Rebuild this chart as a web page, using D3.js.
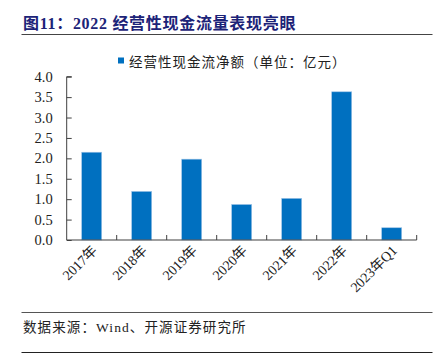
<!DOCTYPE html>
<html><head><meta charset="utf-8">
<script src="https://cdn.jsdelivr.net/npm/d3@7"></script>
<style>
html,body{margin:0;padding:0;background:#fff;}
svg{display:block;}
</style></head>
<body>
<svg id="c" width="443" height="354"></svg>
<script>
const categories = ["2017年","2018年","2019年","2020年","2021年","2022年","2023年Q1"];
const values = [2.15, 1.19, 1.98, 0.87, 1.02, 3.63, 0.30];
const yTicks = [0, 0.5, 1, 1.5, 2, 2.5, 3, 3.5, 4];
const seriesName = "经营性现金流净额（单位：亿元）";
const titleText = "图11：2022 经营性现金流量表现亮眼";
const sourceText = "数据来源：Wind、开源证券研究所";

(function () {
const svg = d3.select("#c");
const cjk = "'Liberation Serif','Noto Sans CJK SC',serif";
const pL = 66.7, pR = 416.7, pT = 76.7, pB = 240;

// title
svg.append("text").attr("x", 23).attr("y", 29)
  .attr("font-family", cjk).attr("font-weight", "bold")
  .attr("font-size", 16).attr("letter-spacing", 0.7).attr("fill", "#1C2378").text(titleText);
svg.append("line").attr("x1", 21.5).attr("x2", 432.5).attr("y1", 34.5).attr("y2", 34.5)
  .attr("stroke", "#444").attr("stroke-width", 1);

const x = d3.scaleBand().domain(categories).range([pL, pR]).paddingInner(0.6).paddingOuter(0.3);
const y = d3.scaleLinear().domain([0, 4]).range([pB, pT]);

// legend
svg.append("rect").attr("x", 118).attr("y", 57.5).attr("width", 6).attr("height", 6).attr("fill", "#0070C0");
svg.append("text").attr("x", 129).attr("y", 66.5).attr("font-family", cjk)
  .attr("font-size", 13.5).attr("letter-spacing", 1).attr("fill", "#222").text(seriesName);

// bars
svg.append("g").selectAll("rect").data(values).join("rect")
  .attr("x", (d, i) => x(categories[i]))
  .attr("y", d => y(d))
  .attr("width", x.bandwidth())
  .attr("height", d => y(0) - y(d))
  .attr("fill", "#0070C0")
  .attr("stroke", "#9DC3E6").attr("stroke-width", 0.6);

// y axis
const yAxis = d3.axisRight(y).tickValues(yTicks).tickSize(5).tickFormat(d3.format(".1f"));
const gy = svg.append("g").attr("transform", `translate(${pL},0)`).call(yAxis);
gy.select(".domain").attr("stroke", "#404040").attr("d", `M5,${pT}H0V${pB}`);
gy.selectAll(".tick line").attr("stroke", "#404040");
gy.selectAll(".tick text").attr("x", -14).attr("text-anchor", "end")
  .attr("font-family", "'Liberation Serif',serif").attr("font-size", 14.5).attr("fill", "#222");

// x axis
const gx = svg.append("g").attr("transform", `translate(0,${pB})`);
gx.append("line").attr("x1", pL).attr("x2", pR).attr("y1", 0).attr("y2", 0)
  .attr("stroke", "#404040").attr("stroke-width", 1.2);
const bounds = categories.map((c, i) => x(c) - x.step() * x.paddingOuter()).concat([pR]);
gx.selectAll("line.t").data(bounds.slice(1)).join("line").attr("class", "t")
  .attr("x1", d => d).attr("x2", d => d).attr("y1", 0).attr("y2", -5).attr("stroke", "#404040");
gx.selectAll("text").data(categories).join("text")
  .attr("transform", d => `translate(${x(d) + x.bandwidth() / 2 + 4},${9}) rotate(-45)`)
  .attr("text-anchor", "end").attr("dominant-baseline", "middle")
  .attr("font-family", cjk).attr("font-size", 14).attr("fill", "#222").text(d => d);

// source
svg.append("line").attr("x1", 21.5).attr("x2", 432.5).attr("y1", 312.5).attr("y2", 312.5)
  .attr("stroke", "#555").attr("stroke-width", 1);
svg.append("text").attr("x", 23).attr("y", 332).attr("font-family", cjk)
  .attr("font-size", 13.5).attr("letter-spacing", 1.1).attr("fill", "#222").text(sourceText);
svg.append("line").attr("x1", 21.5).attr("x2", 432.5).attr("y1", 352.5).attr("y2", 352.5)
  .attr("stroke", "#222").attr("stroke-width", 1.2);
})();
</script>
</body></html>
